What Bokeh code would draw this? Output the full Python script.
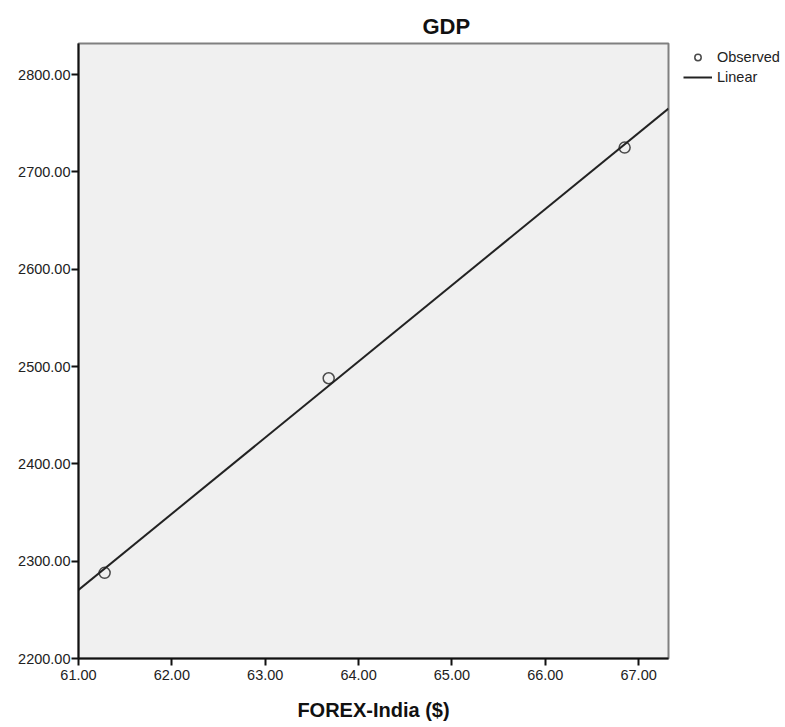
import numpy as np
from bokeh.plotting import figure
from bokeh.models import Legend, LegendItem, NumeralTickFormatter, FixedTicker, Range1d, ColumnDataSource
from bokeh.embed import file_html
from bokeh.resources import INLINE

forex = [61.28, 63.68, 66.85]
gdp = [2288.0, 2488.0, 2725.0]
x_ticks = [61, 62, 63, 64, 65, 66, 67]
y_ticks = [2200, 2300, 2400, 2500, 2600, 2700, 2800]
x_range = (61.0, 67.32)
y_range = (2200.0, 2832.0)

slope, intercept = np.polyfit(forex, gdp, 1)
fit_x = [x_range[0], x_range[1]]
fit_y = [intercept + slope * v for v in fit_x]

FONT = "Liberation Sans"

p = figure(frame_width=590, frame_height=615, output_backend="svg", toolbar_location=None,
           x_range=Range1d(*x_range), y_range=Range1d(*y_range),
           min_border_left=78, min_border_top=43, min_border_bottom=5, min_border_right=112,
           background_fill_color="#f0f0f0", border_fill_color="white")

p.title.text = "GDP"
p.title.align = "left"
p.title.text_font = FONT
p.title.text_font_size = "22px"
p.title.text_font_style = "bold"
p.title.text_color = "#111111"
p.title.offset = 344

p.outline_line_color = "#808080"
p.outline_line_width = 2
p.xgrid.visible = False
p.ygrid.visible = False

for ax in (p.xaxis, p.yaxis):
    ax.major_label_text_font = FONT
    ax.major_label_text_font_size = "14.5px"
    ax.major_label_text_color = "#222222"
    ax.axis_line_color = "#111111"
    ax.axis_line_width = 2
    ax.major_tick_line_color = "#111111"
    ax.major_tick_line_width = 2
    ax.major_tick_out = 7
    ax.major_tick_in = 0
    ax.minor_tick_line_color = None
    ax.formatter = NumeralTickFormatter(format="0.00")

p.xaxis.ticker = FixedTicker(ticks=x_ticks)
p.yaxis.ticker = FixedTicker(ticks=y_ticks)
p.xaxis.major_label_standoff = 4
p.yaxis.major_label_standoff = 1
p.xaxis.axis_label = "FOREX-India ($)"
p.xaxis.axis_label_text_font = FONT
p.xaxis.axis_label_text_font_size = "20px"
p.xaxis.axis_label_text_font_style = "bold"
p.xaxis.axis_label_text_color = "#111111"
p.xaxis.axis_label_standoff = 16

src = ColumnDataSource(dict(x=forex, y=gdp))
pts = p.scatter("x", "y", source=src, size=11, marker="circle",
                fill_color=None, line_color="#4a4a4a", line_width=1.5)
ln = p.line(fit_x, fit_y, line_color="#222222", line_width=2)

legend = Legend(items=[LegendItem(label="Observed", renderers=[pts]),
                       LegendItem(label="Linear", renderers=[ln])],
                location=(15, 573), border_line_color=None,
                background_fill_alpha=0, label_text_font=FONT,
                label_text_font_size="14.5px", label_text_color="#222222",
                glyph_width=29, glyph_height=16,
                spacing=4, padding=0, margin=0, label_standoff=5,
                label_height=16)
p.add_layout(legend, "right")

open("out.html", "w").write(file_html(p, INLINE))
